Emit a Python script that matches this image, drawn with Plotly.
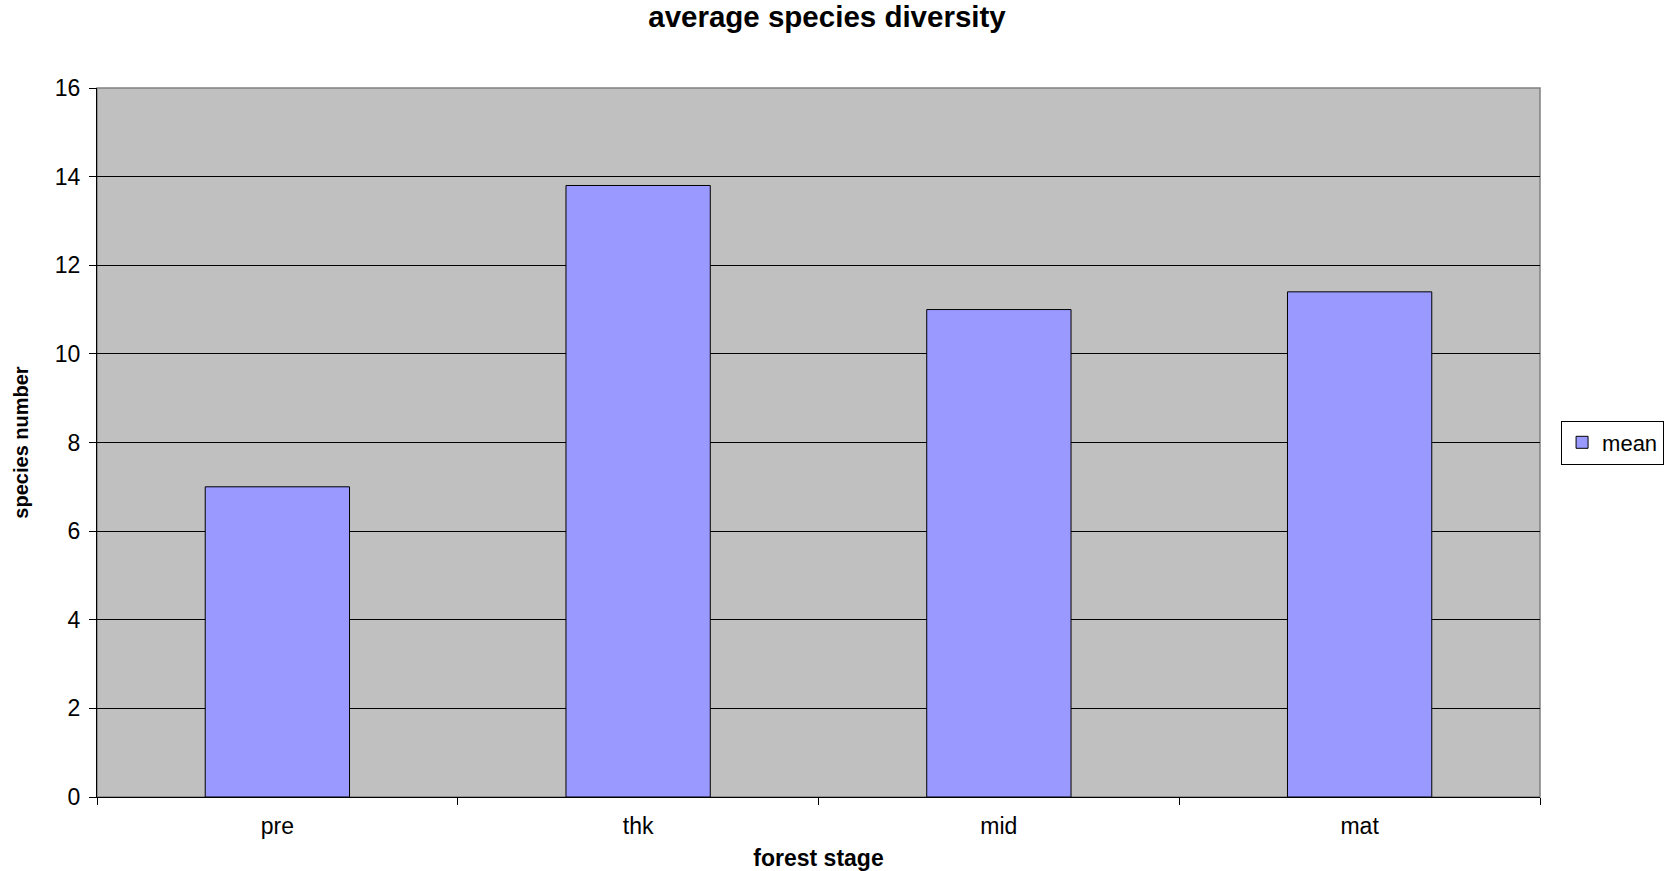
import plotly.graph_objects as go

categories = ["pre", "thk", "mid", "mat"]
mean_values = [7.0, 13.8, 11.0, 11.4]
y_ticks = [0, 2, 4, 6, 8, 10, 12, 14, 16]

fig = go.Figure()
fig.add_trace(go.Bar(
    x=categories, y=mean_values, name="mean",
    marker=dict(color="#9999FF", line=dict(color="#000000", width=1)),
    showlegend=True,
))

fig.update_layout(
    width=1669, height=871,
    margin=dict(l=97, r=129, t=88, b=74, autoexpand=False),
    paper_bgcolor="white",
    plot_bgcolor="#C0C0C0",
    bargap=0.6,
    font=dict(family="Liberation Sans, Arial, sans-serif", color="black", size=22),
    title=dict(text="<b>average species diversity</b>", x=0.4955, xanchor="center",
               y=0.981, yanchor="middle", font=dict(size=29.5)),
    showlegend=True,
    legend=dict(x=1.0146, xanchor="left", y=0.5, yanchor="middle",
                bgcolor="white", bordercolor="black", borderwidth=1,
                font=dict(size=22), itemwidth=30),
    xaxis=dict(
        title=dict(text="<b>forest stage</b>", font=dict(size=23), standoff=18),
        automargin=False,
        showline=True, linecolor="black", linewidth=1,
        ticks="outside", ticklen=7, tickcolor="black", tickson="boundaries",
        ticklabelstandoff=8, tickfont=dict(size=23),
        showgrid=False, zeroline=False,
    ),
    yaxis=dict(
        title=dict(text="<b>species number</b>",
                   font=dict(size=20, family="Liberation Sans Narrow, Arial Narrow, Liberation Sans"),
                   standoff=20),
        automargin=False,
        range=[0, 16], tickvals=y_ticks,
        showline=True, linecolor="black", linewidth=1,
        ticks="outside", ticklen=7, tickcolor="black",
        ticklabelstandoff=4, tickfont=dict(size=23),
        showgrid=True, gridcolor="black", gridwidth=1,
        zeroline=False,
    ),
    shapes=[dict(type="rect", xref="paper", yref="paper", x0=0, x1=1, y0=0, y1=1,
                 line=dict(color="#808080", width=1.5), layer="below")],
)

fig.write_html("out.html", config={"displayModeBar": False},
               post_script="document.body.style.margin='0';")
